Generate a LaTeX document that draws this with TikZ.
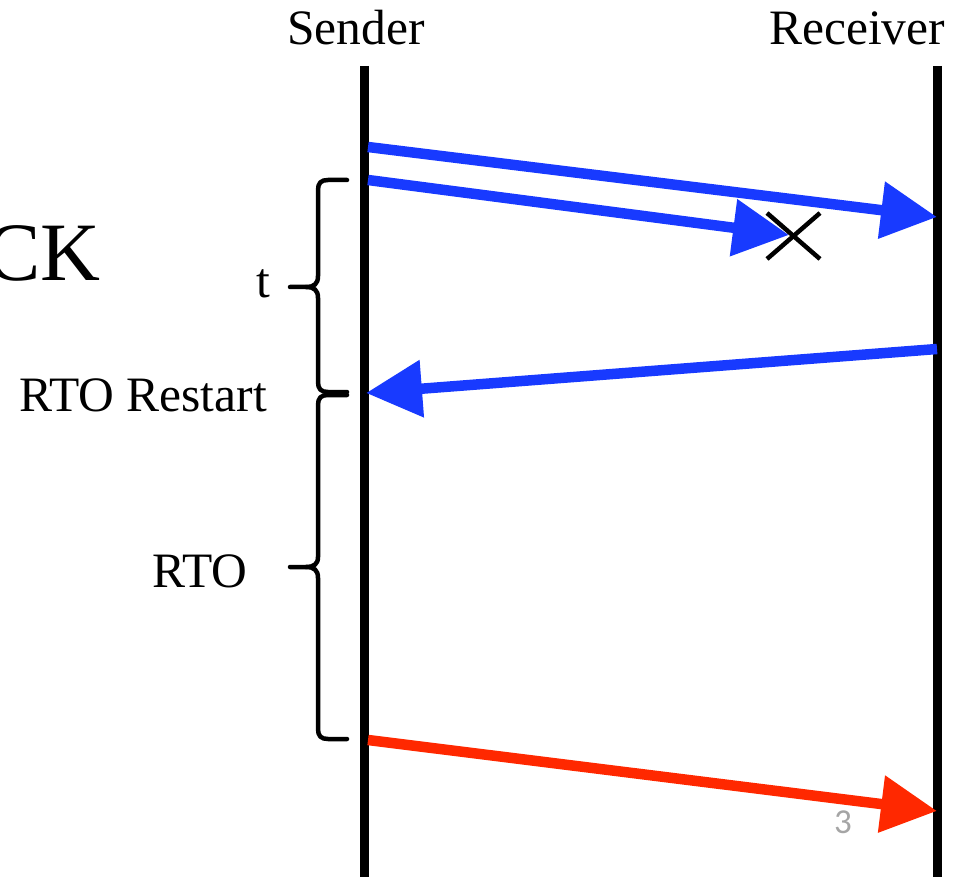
\documentclass[tikz,border=0pt]{standalone}
\usepackage{fontspec}
\setmainfont{Liberation Serif}
\newfontfamily\slidefont{Carlito}
\usetikzlibrary{arrows.meta}
\definecolor{msgblue}{RGB}{24,58,255}
\definecolor{msgred}{RGB}{255,40,0}
\definecolor{pagegray}{RGB}{165,165,165}
\begin{document}
\begin{tikzpicture}[x=1pt,y=-1pt,
  lifeline/.style={line width=9pt},
  msg/.style={line width=10.5pt,-{Triangle[length=56pt,width=55pt]}},
  bracepath/.style={line width=4.5pt,line cap=round,line join=round},
  lbl/.style={font=\fontsize{49.5}{58}\selectfont,inner sep=0pt},
  lossmark/.style={line width=4.5pt}]
\useasboundingbox (0,0) rectangle (969,877);

% participants
\node[lbl,anchor=base] (snd) at (356,45) {Sender};
\node[lbl,anchor=base] (rcv) at (857,45) {Receiver};

% lifelines
\coordinate (sTop) at (364,66);
\coordinate (sBot) at (364,877);
\coordinate (rTop) at (937,66);
\coordinate (rBot) at (937,877);
\draw[lifeline] (sTop) -- (sBot);
\draw[lifeline] (rTop) -- (rBot);

% message end points
\coordinate (m1s) at (368,147);
\coordinate (m1e) at (937,217);
\coordinate (m2s) at (368,180);
\coordinate (m2e) at (789,235);
\coordinate (m3s) at (937,349);
\coordinate (m3e) at (366,393);
\coordinate (m4s) at (368,740);
\coordinate (m4e) at (937,811);

\draw[msg,msgblue] (m1s) -- (m1e);
\draw[msg,msgblue] (m2s) -- (m2e);
\draw[msg,msgblue] (m3s) -- (m3e);
\draw[msg,msgred] (m4s) -- (m4e);

% lost segment
\coordinate (lossC) at (793,236);
\draw[lossmark] ([shift={(-26,-23)}]lossC) -- ([shift={(27,23)}]lossC);
\draw[lossmark] ([shift={(27,-23)}]lossC) -- ([shift={(-26,23)}]lossC);

% braces
\draw[bracepath] (347,180) -- (328,180) .. controls (321,180) and (318,183) .. (318,190)
  -- (318,276) .. controls (318,284) and (314,287) .. (306,287) -- (290,287);
\draw[bracepath] (306,287) .. controls (314,287) and (318,290) .. (318,298)
  -- (318,382) .. controls (318,389) and (321,392) .. (328,392) -- (347,392);
\draw[bracepath] (347,395) -- (328,395) .. controls (321,395) and (318,398) .. (318,405)
  -- (318,557) .. controls (318,564) and (314,567) .. (306,567) -- (290,567);
\draw[bracepath] (306,567) .. controls (314,567) and (318,570) .. (318,578)
  -- (318,729) .. controls (318,736) and (321,739) .. (328,739) -- (347,739);

% labels
\node[font=\fontsize{83}{90}\selectfont,inner sep=0pt,anchor=base east] (ck) at (101,280) {CK};
\node[lbl,anchor=base] (tlbl) at (263,298) {t};
\node[lbl,anchor=base] (restart) at (143,411) {RTO Restart};
\node[lbl,anchor=base] (rto) at (200,587) {RTO};
\node[font=\slidefont\fontsize{35}{40}\selectfont,text=pagegray,inner sep=0pt,anchor=base] (pg) at (843,833) {3};
\end{tikzpicture}
\end{document}
